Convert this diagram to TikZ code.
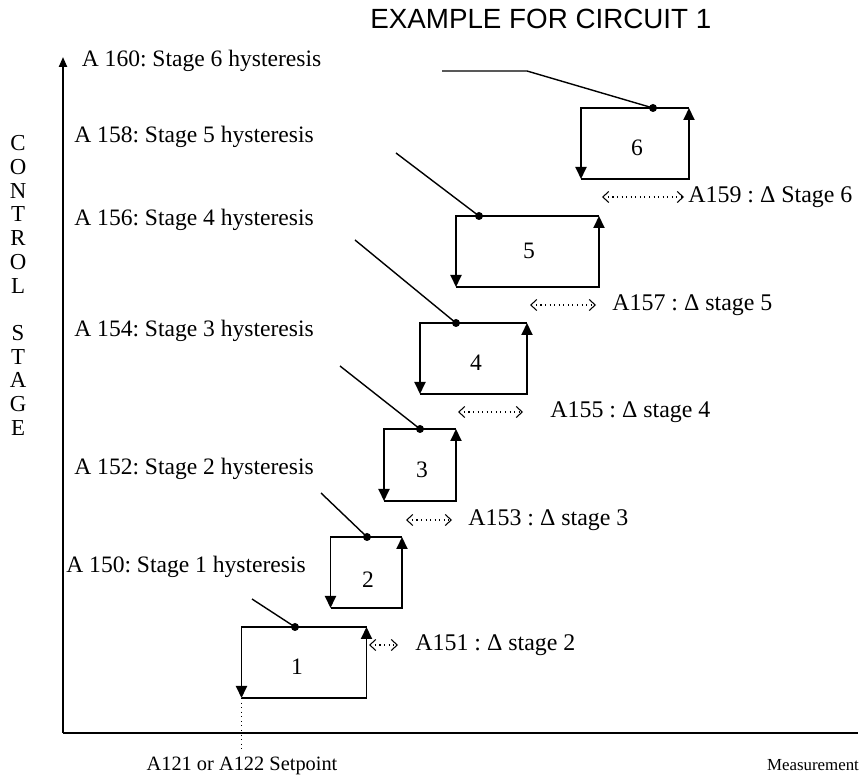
\documentclass[tikz,border=0pt]{standalone}
\usepackage{fontspec}
\setmainfont{Liberation Serif}
\newfontfamily\titlefont{Liberation Sans}
\usetikzlibrary{arrows.meta}
\frenchspacing

\begin{document}
\begin{tikzpicture}[scale=1,
    turn/.style={line width=1.1pt,-{Triangle[length=0.24cm,width=0.22cm]}},
    lead/.style={line width=0.8pt},
    delta/.style={line width=0.6pt,dotted,{Straight Barb[length=0.12cm,width=0.22cm]}-{Straight Barb[length=0.12cm,width=0.22cm]}},
    lab/.style={font=\fontsize{13.4}{15}\selectfont,inner sep=0pt},
    dlab/.style={font=\fontsize{13.6}{15}\selectfont,inner sep=0pt,anchor=west}]
    \useasboundingbox (0,0) rectangle (17.34,15.58);
    % axes
    \coordinate (o) at (1.26,0.92);
    \coordinate (ytop) at (1.26,14.44);
    \coordinate (xend) at (17.16,0.92);
    \draw[line width=1.2pt,-{Triangle[length=0.2cm,width=0.16cm]}] (o) -- (ytop);
    \draw[line width=1.2pt] (o) -- (xend);
    \node[lab,align=center,font=\fontsize{13}{13.5}\selectfont] (ylab) at (0.36,9.87)
        {C\\O\\N\\T\\R\\O\\L\\ \\S\\T\\A\\G\\E};
    \node[lab,anchor=base,font=\fontsize{9.6}{11}\selectfont] (xlab) at (16.26,0.18) {Measurement};
    \node[anchor=base west,inner sep=0pt,font=\titlefont\fontsize{15.8}{18}\selectfont] (title) at (7.40,15.00) {EXAMPLE FOR CIRCUIT 1};

    % stage 1
    \coordinate (tl1) at (4.83,3.04); \coordinate (br1) at (7.33,1.62);
    \draw[turn] (tl1 -| br1) -- (tl1) -- (tl1 |- br1);
    \draw[turn] (tl1 |- br1) -- (br1) -- (tl1 -| br1);
    \node[lab] (n1) at (5.94,2.24) {1};
    \coordinate (dot1) at (5.90,3.04);
    \coordinate (l1) at (5.04,3.60);
    \draw[lead] (l1) -- (dot1);
    \fill (dot1) circle (0.08);
    \node[lab,anchor=base west] (h1) at (1.32,4.12) {A 150: Stage 1 hysteresis};
    \coordinate (sp) at (4.83,0.58);
    \draw[line width=0.6pt,dotted] (tl1 |- br1) -- (sp);
    \node[lab,anchor=base,font=\fontsize{11.6}{13}\selectfont] (setpt) at (4.84,0.18) {A121 or A122 Setpoint};

    % stage 2
    \coordinate (tl2) at (6.61,4.84); \coordinate (br2) at (8.04,3.42);
    \draw[turn] (tl2 -| br2) -- (tl2) -- (tl2 |- br2);
    \draw[turn] (tl2 |- br2) -- (br2) -- (tl2 -| br2);
    \node[lab] (n2) at (7.36,3.98) {2};
    \coordinate (dot2) at (7.34,4.84);
    \coordinate (l2) at (6.42,5.72);
    \draw[lead] (l2) -- (dot2);
    \fill (dot2) circle (0.08);
    \node[lab,anchor=base west] (h2) at (1.48,6.08) {A 152: Stage 2 hysteresis};
    \coordinate (d2a) at (7.38,2.68); \coordinate (d2b) at (7.96,2.68);
    \draw[delta] (d2a) -- (d2b);
    \node[dlab] (d2) at (8.30,2.68) {A151 : Δ stage 2};

    % stage 3
    \coordinate (tl3) at (7.68,7.00); \coordinate (br3) at (9.12,5.56);
    \draw[turn] (tl3 -| br3) -- (tl3) -- (tl3 |- br3);
    \draw[turn] (tl3 |- br3) -- (br3) -- (tl3 -| br3);
    \node[lab] (n3) at (8.44,6.18) {3};
    \coordinate (dot3) at (8.40,7.00);
    \coordinate (l3) at (6.80,8.26);
    \draw[lead] (l3) -- (dot3);
    \fill (dot3) circle (0.08);
    \node[lab,anchor=base west] (h3) at (1.48,8.84) {A 154: Stage 3 hysteresis};
    \coordinate (d3a) at (8.12,5.18); \coordinate (d3b) at (9.04,5.18);
    \draw[delta] (d3a) -- (d3b);
    \node[dlab] (d3) at (9.36,5.18) {A153 : Δ stage 3};

    % stage 4
    \coordinate (tl4) at (8.40,9.12); \coordinate (br4) at (10.54,7.70);
    \draw[turn] (tl4 -| br4) -- (tl4) -- (tl4 |- br4);
    \draw[turn] (tl4 |- br4) -- (br4) -- (tl4 -| br4);
    \node[lab] (n4) at (9.52,8.32) {4};
    \coordinate (dot4) at (9.12,9.12);
    \coordinate (l4) at (7.10,10.78);
    \draw[lead] (l4) -- (dot4);
    \fill (dot4) circle (0.08);
    \node[lab,anchor=base west] (h4) at (1.48,11.06) {A 156: Stage 4 hysteresis};
    \coordinate (d4a) at (9.16,7.34); \coordinate (d4b) at (10.46,7.34);
    \draw[delta] (d4a) -- (d4b);
    \node[dlab] (d4) at (11.00,7.34) {A155 : Δ stage 4};

    % stage 5
    \coordinate (tl5) at (9.12,11.26); \coordinate (br5) at (11.98,9.84);
    \draw[turn] (tl5 -| br5) -- (tl5) -- (tl5 |- br5);
    \draw[turn] (tl5 |- br5) -- (br5) -- (tl5 -| br5);
    \node[lab] (n5) at (10.58,10.56) {5};
    \coordinate (dot5) at (9.58,11.26);
    \coordinate (l5) at (7.92,12.52);
    \draw[lead] (l5) -- (dot5);
    \fill (dot5) circle (0.08);
    \node[lab,anchor=base west] (h5) at (1.48,12.72) {A 158: Stage 5 hysteresis};
    \coordinate (d5a) at (10.60,9.48); \coordinate (d5b) at (11.92,9.48);
    \draw[delta] (d5a) -- (d5b);
    \node[dlab] (d5) at (12.24,9.48) {A157 : Δ stage 5};

    % stage 6
    \coordinate (tl6) at (11.62,13.42); \coordinate (br6) at (13.78,12.00);
    \draw[turn] (tl6 -| br6) -- (tl6) -- (tl6 |- br6);
    \draw[turn] (tl6 |- br6) -- (br6) -- (tl6 -| br6);
    \node[lab] (n6) at (12.74,12.62) {6};
    \coordinate (dot6) at (13.06,13.42);
    \coordinate (l6) at (8.84,14.16);
    \coordinate (k6) at (10.54,14.16);
    \draw[lead] (l6) -- (k6) -- (dot6);
    \fill (dot6) circle (0.08);
    \node[lab,anchor=base west] (h6) at (1.63,14.24) {A 160: Stage 6 hysteresis};
    \coordinate (d6a) at (12.04,11.64); \coordinate (d6b) at (13.68,11.64);
    \draw[delta] (d6a) -- (d6b);
    \node[dlab] (d6) at (13.76,11.64) {A159 : Δ Stage 6};
\end{tikzpicture}
\end{document}
